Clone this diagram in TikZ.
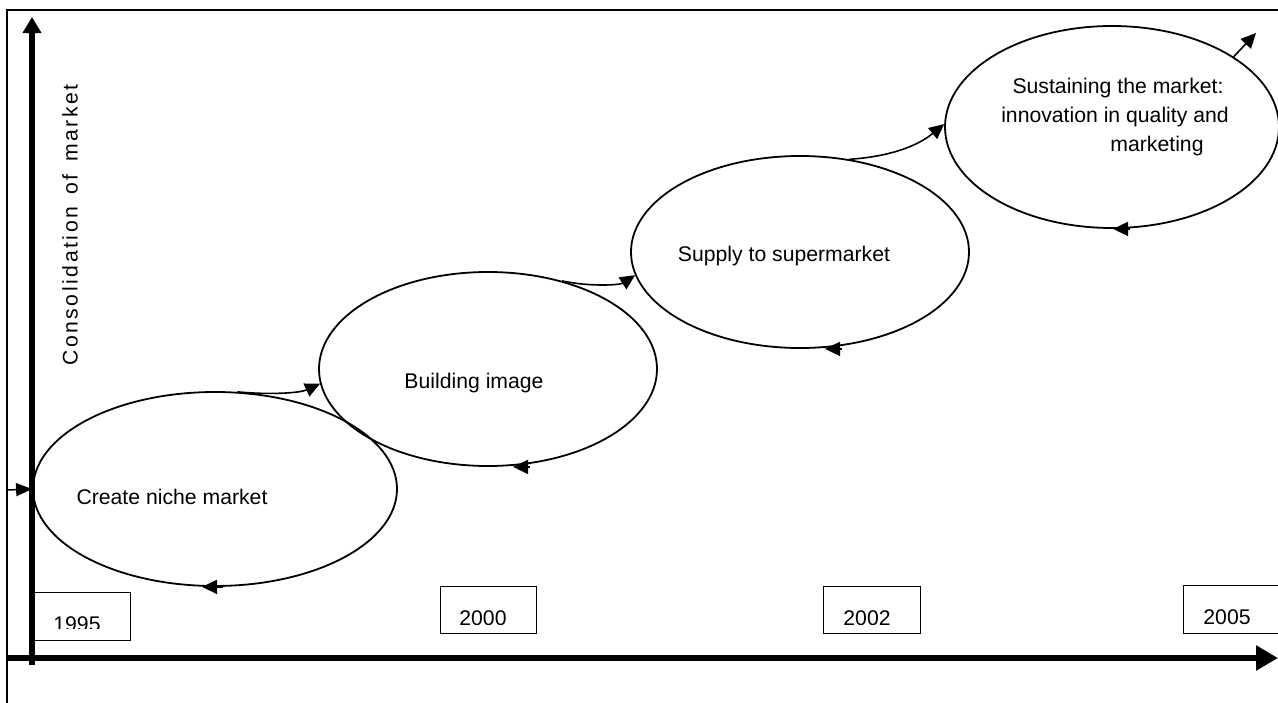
\documentclass[tikz,border=0pt]{standalone}
\usepackage{fontspec}
\setmainfont{Liberation Sans}
\usetikzlibrary{shapes.geometric,arrows.meta}
\begin{document}
\begin{tikzpicture}[x=1pt,y=-1pt,
  stage/.style={ellipse,draw,line width=1.8pt,inner sep=0pt},
  lbl/.style={font=\fontsize{21.2}{25}\selectfont,inner sep=0pt},
  yearbox/.style={draw,line width=1.4pt,inner sep=0pt,anchor=north west},
  flow/.style={line width=1.6pt,-{Triangle[length=15pt,width=14pt]}},
  yaxis/.style={line width=6pt,-{Triangle[length=16pt,width=18pt]}},
  xaxis/.style={line width=6pt,-{Triangle[length=22pt,width=24pt]}},
  frame/.style={line width=2pt}
]
\useasboundingbox (0,0) rectangle (1278,702);
\clip (0,0) rectangle (1278,702);

% frame
\draw[frame] (1290,10) -- (7,10) -- (7,710);

% stages
\node[stage, minimum width=364pt, minimum height=194pt] (e1) at (215,489) {};
\node[stage, minimum width=338pt, minimum height=194pt] (e2) at (488,369) {};
\node[stage, minimum width=338pt, minimum height=192pt] (e3) at (800,252) {};
\node[stage, minimum width=334pt, minimum height=202pt] (e4) at (1112,127) {};

% labels
\node[lbl] (t1) at (172,497) {Create niche market};
\node[lbl] (t2) at (474,383) {Building image};
\node[lbl] (t3) at (784,256) {Supply to supermarket};
\node[lbl] (t4a) at (1118,88) {Sustaining the market:};
\node[lbl] (t4b) at (1115,117) {innovation in quality and};
\node[lbl] (t4c) at (1157,146) {marketing};
\node[lbl, rotate=90] (ylab) at (70,225) {\addfontfeatures{LetterSpace=12}Consolidation\hspace{4pt} of\hspace{4pt} market};

% connectors between stages
\draw[flow] (e1.77) .. controls (270,395) and (300,393) .. (e2.185);
\draw[flow] (e2.50) .. controls (590,287) and (620,285) .. (e3.188);
\draw[flow] (e3.62) .. controls (885,157) and (915,148) .. (e4.179);
\coordinate (out) at (1256,33);
\draw[flow] (e4.30) -- (out);

% return arrows on bottoms
\draw[flow] ([xshift=8pt]e1.south) -- ([xshift=-13pt]e1.south);
\draw[flow] ([xshift=42pt]e2.south) -- ([xshift=25pt]e2.south);
\draw[flow] ([xshift=42pt]e3.south) -- ([xshift=25pt]e3.south);
\draw[flow] ([xshift=18pt]e4.south) -- ([xshift=1pt]e4.south);

% year boxes
\node[yearbox, minimum width=97pt, minimum height=48pt] (b1995) at (33,592) {};
\node[yearbox, minimum width=96pt, minimum height=47pt] (b2000) at (440,586) {};
\node[yearbox, minimum width=97pt, minimum height=47pt] (b2002) at (823,586) {};
\node[yearbox, minimum width=120pt, minimum height=48pt] (b2005) at (1183,585) {};
\begin{scope}
\clip (33,592) rectangle (130,628);
\node[lbl, anchor=base] (y1995) at (77,631) {1995};
\end{scope}
\begin{scope}
\clip (440,586) rectangle (536,624.5);
\node[lbl, anchor=base] (y2000) at (483,625) {2000};
\end{scope}
\begin{scope}
\clip (823,586) rectangle (920,624.5);
\node[lbl, anchor=base] (y2002) at (867,625) {2002};
\end{scope}
\begin{scope}
\clip (1183,585) rectangle (1278,624);
\node[lbl, anchor=base] (y2005) at (1227,624.5) {2005};
\end{scope}

% entry arrow
\coordinate (inl) at (7,490);
\draw[line width=1.5pt,-{Triangle[length=16pt,width=13pt]}] (inl) -- (e1.west);

% axes
\coordinate (o) at (32,665);
\coordinate (ytop) at (32,17);
\draw[yaxis] (o) -- (ytop);
\coordinate (xl) at (7,658);
\coordinate (xr) at (1278,658);
\draw[xaxis] (xl) -- (xr);
\end{tikzpicture}
\end{document}
